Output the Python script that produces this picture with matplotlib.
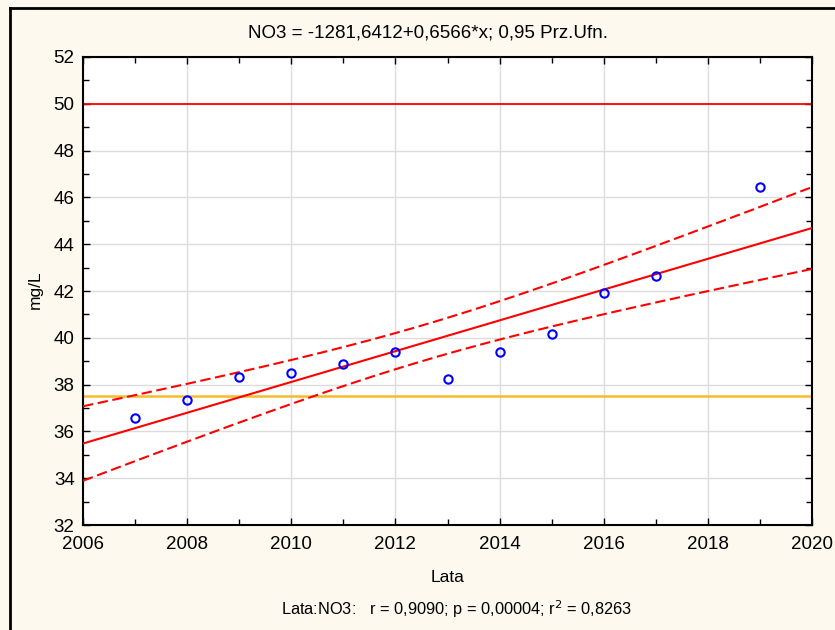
import numpy as np
import matplotlib
matplotlib.use("Agg")
import matplotlib.pyplot as plt
from matplotlib.lines import Line2D
from matplotlib.ticker import MultipleLocator

plt.rcParams['font.family'] = ['Liberation Sans', 'DejaVu Sans']

years = np.array([2007, 2008, 2009, 2010, 2011, 2012, 2013, 2014, 2015, 2016, 2017, 2019])
no3 = np.array([36.57, 37.33, 38.32, 38.48, 38.87, 39.38, 38.25, 39.39, 40.15, 41.9, 42.65, 46.46])
limit_red = 50.0
limit_orange = 37.5
title_text = "NO3 = -1281,6412+0,6566*x; 0,95 Prz.Ufn."
stats_text = "Lata:NO3:   r = 0,9090; p = 0,00004; r$^2$ = 0,8263"
t_crit = 2.228  # t(0.975, df=10)

W, H = 835, 630
fig = plt.figure(figsize=(W / 100, H / 100), dpi=100)
fig.patch.set_facecolor('#FDF9EE')
ax = fig.add_axes([83 / W, 1 - 525 / H, (812 - 83) / W, (525 - 57) / H])
ax.set_facecolor('white')

# regression and confidence band
b, a = np.polyfit(years, no3, 1)
n = len(years)
xs = np.linspace(2006, 2020, 200)
yfit = a + b * xs
resid = no3 - (a + b * years)
s = np.sqrt(np.sum(resid ** 2) / (n - 2))
sxx = np.sum((years - years.mean()) ** 2)
half = t_crit * s * np.sqrt(1 / n + (xs - years.mean()) ** 2 / sxx)

ax.axhline(limit_red, color='#FF0000', lw=1.3, zorder=2)
ax.axhline(limit_orange, color='#F8BC2A', lw=1.8, zorder=2)
ax.plot(xs, yfit, color='#FF0000', lw=1.5, zorder=3)
ax.plot(xs, yfit + half, color='#FF0000', lw=1.5, ls=(0, (5, 2.2)), zorder=3)
ax.plot(xs, yfit - half, color='#FF0000', lw=1.5, ls=(0, (5, 2.2)), zorder=3)
ax.plot(years, no3, 'o', mfc='none', mec='#0000FF', mew=1.5, ms=6, zorder=4)

ax.set_xlim(2006, 2020)
ax.set_ylim(32, 52)
ax.xaxis.set_major_locator(MultipleLocator(2))
ax.xaxis.set_minor_locator(MultipleLocator(1))
ax.yaxis.set_major_locator(MultipleLocator(2))
ax.yaxis.set_minor_locator(MultipleLocator(1))
ax.grid(True, which='major', color='#DCDCDC', lw=1.0, zorder=0)
ax.set_axisbelow(True)
ax.tick_params(which='both', direction='in', top=True, right=True, color='black')
ax.tick_params(which='major', length=5, width=1, labelsize=13.5)
ax.tick_params(axis='x', which='major', pad=8)
ax.tick_params(axis='y', which='major', pad=6)
ax.tick_params(which='minor', length=4, width=1)
for sp in ax.spines.values():
    sp.set_linewidth(1.5)
    sp.set_color('black')

fig.text(428 / W, 1 - 33 / H, title_text, ha='center', va='center', fontsize=13.5)
fig.text(448 / W, 1 - 578 / H, "Lata", ha='center', va='center', fontsize=12.5)
fig.text(457 / W, 1 - 609 / H, stats_text, ha='center', va='center', fontsize=11.8)
fig.text(35 / W, 1 - 290 / H, "mg/L", ha='center', va='center', rotation=90, fontsize=12.5)

# window frame (left and top)
fig.add_artist(Line2D([9.5 / W, 9.5 / W], [0, 1 - 7.5 / H], color='black', lw=2, transform=fig.transFigure))
fig.add_artist(Line2D([9.5 / W, 1], [1 - 7.5 / H, 1 - 7.5 / H], color='black', lw=2, transform=fig.transFigure))

fig.savefig('out.png', dpi=100, facecolor=fig.get_facecolor())
